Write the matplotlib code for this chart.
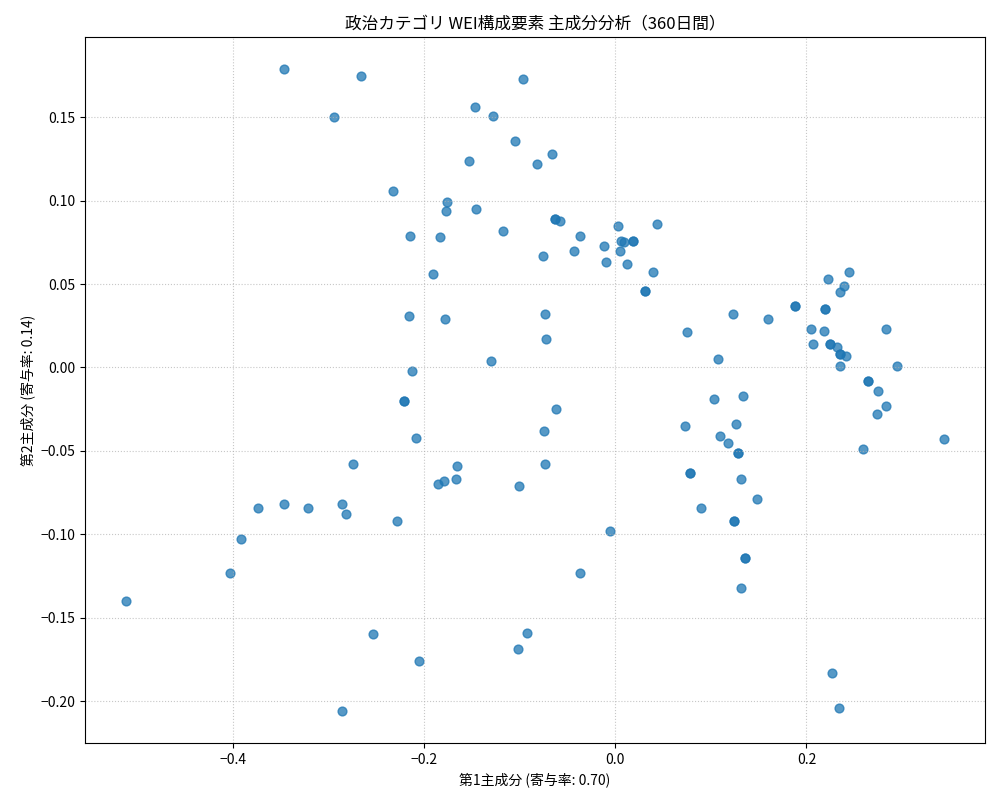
import matplotlib
matplotlib.use('Agg')
import matplotlib.pyplot as plt

plt.rcParams['font.family'] = ['Noto Sans CJK JP', 'DejaVu Sans']

# first principal component scores
pc1 = [-0.512, -0.347, -0.266, -0.294, -0.097, -0.147, -0.128, -0.105, -0.153, -0.082,
       -0.066, -0.233, -0.176, -0.177, -0.146, -0.215, -0.183, -0.118, -0.063, -0.063,
       -0.058, -0.037, 0.003, 0.044, 0.006, 0.009, 0.019, 0.019, -0.012, -0.043,
       0.005, -0.076, -0.010, 0.012, -0.191, 0.039, 0.031, 0.031, -0.216, -0.178,
       -0.074, -0.072, -0.130, -0.213, -0.221, -0.221, -0.062, -0.208, -0.075, -0.274,
       -0.166, -0.074, -0.179, -0.185, -0.167, -0.101, -0.374, -0.347, -0.321, -0.286,
       -0.282, -0.228, -0.392, -0.403, -0.006, -0.037, -0.254, -0.092, -0.205, -0.102,
       -0.286,
       0.075, 0.123, 0.160, 0.188, 0.188, 0.219, 0.219, 0.223, 0.244, 0.239,
       0.235, 0.205, 0.218, 0.283, 0.207, 0.225, 0.225, 0.232, 0.235, 0.235,
       0.241, 0.235, 0.295, 0.264, 0.264, 0.275, 0.283, 0.274, 0.344, 0.259,
       0.107, 0.103, 0.134, 0.126, 0.073, 0.110, 0.118, 0.128, 0.128, 0.078,
       0.078, 0.131, 0.148, 0.090, 0.124, 0.124, 0.136, 0.136, 0.132, 0.227,
       0.234]
# second principal component scores
pc2 = [-0.140, 0.179, 0.175, 0.150, 0.173, 0.156, 0.151, 0.136, 0.124, 0.122,
       0.128, 0.106, 0.099, 0.094, 0.095, 0.079, 0.078, 0.082, 0.089, 0.089,
       0.088, 0.079, 0.085, 0.086, 0.076, 0.075, 0.076, 0.076, 0.073, 0.070,
       0.070, 0.067, 0.063, 0.062, 0.056, 0.057, 0.046, 0.046, 0.031, 0.029,
       0.032, 0.017, 0.004, -0.002, -0.020, -0.020, -0.025, -0.042, -0.038, -0.058,
       -0.059, -0.058, -0.068, -0.070, -0.067, -0.071, -0.084, -0.082, -0.084, -0.082,
       -0.088, -0.092, -0.103, -0.123, -0.098, -0.123, -0.160, -0.159, -0.176, -0.169,
       -0.206,
       0.021, 0.032, 0.029, 0.037, 0.037, 0.035, 0.035, 0.053, 0.057, 0.049,
       0.045, 0.023, 0.022, 0.023, 0.014, 0.014, 0.014, 0.012, 0.008, 0.008,
       0.007, 0.001, 0.001, -0.008, -0.008, -0.014, -0.023, -0.028, -0.043, -0.049,
       0.005, -0.019, -0.017, -0.034, -0.035, -0.041, -0.045, -0.051, -0.051, -0.063,
       -0.063, -0.067, -0.079, -0.084, -0.092, -0.092, -0.114, -0.114, -0.132, -0.183,
       -0.204]

fig, ax = plt.subplots(figsize=(10, 8), dpi=100)
ax.scatter(pc1, pc2, s=40, alpha=0.75, color='tab:blue')
ax.set_title('政治カテゴリ WEI構成要素 主成分分析（360日間）')
ax.set_xlabel('第1主成分 (寄与率: 0.70)')
ax.set_ylabel('第2主成分 (寄与率: 0.14)')
ax.grid(True, linestyle=':', alpha=0.7)
fig.subplots_adjust(left=0.085, right=0.985, top=0.954, bottom=0.071)
plt.savefig('out.png')
